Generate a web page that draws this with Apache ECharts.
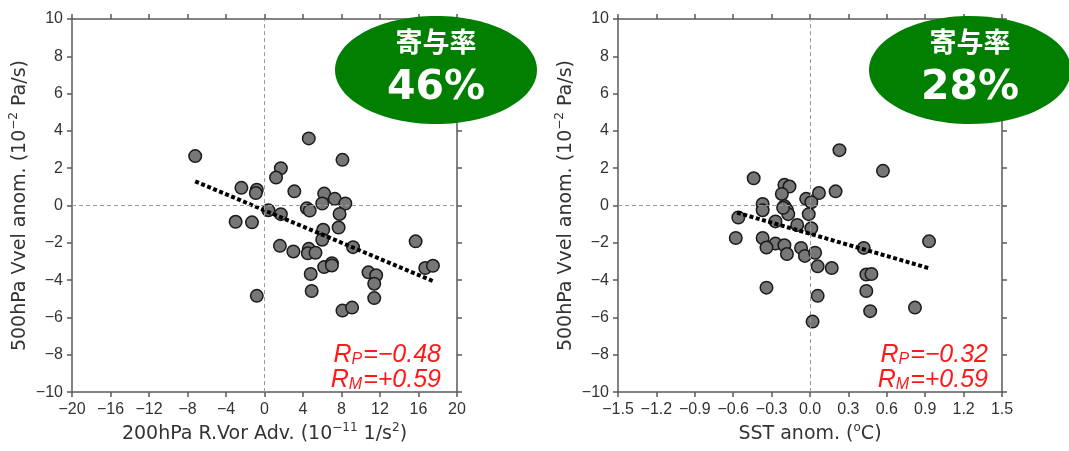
<!DOCTYPE html>
<html>
<head>
<meta charset="utf-8">
<script src="https://cdn.jsdelivr.net/npm/echarts@6/dist/echarts.min.js"></script>
<style>html,body{margin:0;padding:0;background:#fff;}#c{width:1069px;height:451px;}</style>
</head>
<body>
<div id="c"></div>
<script>
// ---- data ----
const leftX = [-7.2, 4.6, 8.1, 1.7, 1.2, -2.4, -0.8, -0.9, 3.1, 6.2, 7.3, 6.0, 8.4, 4.4, 4.7, 0.4, 1.7, 7.8, -3.0, -1.3, 7.7, 6.1, 6.0, 1.6, 3.0, 4.6, 4.5, 5.3, 9.2, 15.7, 6.2, 7.0, 7.0, 10.8, 11.6, 11.4, 16.7, 17.5, 4.8, 4.9, 11.4, -0.8, 8.1, 9.1];
const leftY = [2.65, 3.6, 2.45, 2.0, 1.5, 0.95, 0.85, 0.67, 0.76, 0.64, 0.36, 0.11, 0.11, -0.15, -0.27, -0.25, -0.46, -0.45, -0.87, -0.9, -1.18, -1.3, -1.83, -2.16, -2.46, -2.32, -2.56, -2.53, -2.23, -1.92, -3.3, -3.09, -3.21, -3.58, -3.74, -4.19, -3.35, -3.23, -3.67, -4.58, -4.96, -4.84, -5.63, -5.47];
const rightX = [0.23, 0.57, -0.44, -0.20, -0.16, 0.20, 0.07, -0.22, -0.03, 0.01, -0.37, -0.20, -0.18, -0.37, -0.17, -0.01, -0.56, -0.27, -0.10, 0.01, -0.58, -0.37, -0.27, -0.20, -0.34, -0.18, -0.07, -0.04, 0.04, 0.42, 0.93, 0.06, 0.17, 0.44, 0.48, -0.34, 0.44, 0.06, 0.47, 0.82, 0.02, -0.21];
const rightY = [2.97, 1.86, 1.46, 1.11, 1.02, 0.76, 0.67, 0.62, 0.36, 0.18, 0.08, -0.03, -0.24, -0.25, -0.46, -0.46, -0.64, -0.85, -1.04, -1.22, -1.74, -1.74, -2.04, -2.13, -2.25, -2.6, -2.27, -2.7, -2.53, -2.27, -1.92, -3.26, -3.35, -3.7, -3.67, -4.4, -4.58, -4.84, -5.66, -5.47, -6.22, -0.12];
const trendLeftX = [-7.2, 17.5];
const trendLeftY = [1.3, -4.05];
const trendRightX = [-0.57, 0.925];
const trendRightY = [-0.38, -3.35];
const yTicks = {min: -10, max: 10, interval: 2};
const xTicksLeft = {min: -20, max: 20, interval: 4};
const xTicksRight = {min: -1.5, max: 1.5, interval: 0.3};
const contribLeft = '46%';
const contribRight = '28%';
const statsLeft = {rp: '−0.48', rm: '+0.59'};
const statsRight = {rp: '−0.32', rm: '+0.59'};

const pairs = (xs, ys) => xs.map((x, i) => [x, ys[i]]);
const minus = s => String(s).replace('-', '−');

const AX = '#5a5a5a';
const tickFont = {fontFamily: 'Liberation Sans', fontSize: 16, color: '#333'};
const nameRich = {
  sup: {fontFamily: 'DejaVu Sans', fontSize: 12, color: '#333', verticalAlign: 'top', lineHeight: 12}
};
const nameStyle = {fontFamily: 'DejaVu Sans', fontSize: 19, color: '#333', lineHeight: 24, rich: nameRich};

function xAxisPair(grid, t, fmt, name) {
  const base = {gridIndex: grid, type: 'value', min: t.min, max: t.max, interval: t.interval,
    splitLine: {show: false},
    axisLine: {show: true, onZero: false, lineStyle: {color: AX, width: 1.5}},
    axisTick: {show: true, length: 5, lineStyle: {color: AX, width: 1.5}}};
  return [
    Object.assign({}, base, {position: 'bottom', name: name, nameLocation: 'middle', nameGap: 29,
      nameTextStyle: nameStyle,
      axisLabel: Object.assign({margin: 9, formatter: fmt}, tickFont)}),
    Object.assign({}, base, {position: 'top', axisLabel: {show: false}})
  ];
}
function yAxisPair(grid) {
  const base = {gridIndex: grid, type: 'value', min: yTicks.min, max: yTicks.max, interval: yTicks.interval,
    splitLine: {show: false},
    axisLine: {show: true, onZero: false, lineStyle: {color: AX, width: 1.5}},
    axisTick: {show: true, length: 5, lineStyle: {color: AX, width: 1.5}}};
  return [
    Object.assign({}, base, {position: 'left', name: '500hPa Vvel anom. (10{sup|−2} Pa/s)',
      nameLocation: 'middle', nameGap: 38, nameRotate: 90, nameTextStyle: nameStyle,
      axisLabel: Object.assign({margin: 9, formatter: v => minus(v)}, tickFont)}),
    Object.assign({}, base, {position: 'right', axisLabel: {show: false}})
  ];
}

const fmtLeft = v => minus(v);
const fmtRight = v => minus((Math.round(v * 10) / 10).toFixed(1));

const xAxes = [].concat(
  xAxisPair(0, xTicksLeft, fmtLeft, '200hPa R.Vor Adv. (10{sup|−11} 1/s{sup|2})'),
  xAxisPair(1, xTicksRight, fmtRight, 'SST anom. ({sup|o}C)')
);
const yAxes = [].concat(yAxisPair(0), yAxisPair(1));

function zeroLines(xi, yi) {
  return {type: 'line', xAxisIndex: xi, yAxisIndex: yi, data: [], z: 1, silent: true,
    markLine: {silent: true, symbol: 'none', label: {show: false},
      lineStyle: {color: '#9a9a9a', type: [4, 3], width: 1},
      data: [{xAxis: 0}, {yAxis: 0}]}};
}
function scatter(xi, yi, xs, ys) {
  return {type: 'scatter', xAxisIndex: xi, yAxisIndex: yi, data: pairs(xs, ys), z: 2,
    symbolSize: 12.5, itemStyle: {color: '#777777', borderColor: '#1a1a1a', borderWidth: 1.5, opacity: 1}};
}
function trend(xi, yi, xs, ys) {
  return {type: 'line', xAxisIndex: xi, yAxisIndex: yi, data: pairs(xs, ys), z: 3, symbol: 'none',
    lineStyle: {color: '#000', width: 4, type: [4, 2.5]}};
}

function badge(cx, pct) {
  return [
    {type: 'ellipse', z: 100, shape: {cx: cx, cy: 70, rx: 101, ry: 54}, style: {fill: '#007f00'}},
    {type: 'text', z: 101, x: cx, y: 42, style: {text: '寄与率', fill: '#fff', align: 'center', verticalAlign: 'middle',
      font: 'bold 27px "Noto Sans CJK JP"'}},
    {type: 'text', z: 101, x: cx, y: 88, style: {text: pct, fill: '#fff', align: 'center', verticalAlign: 'middle',
      font: 'bold 41px "DejaVu Sans"'}}
  ];
}
const statRich = {
  m: {fontFamily: 'Liberation Sans', fontStyle: 'italic', fontSize: 25, fill: '#ff1a1a', lineHeight: 26},
  s: {fontFamily: 'Liberation Sans', fontStyle: 'italic', fontSize: 16, fill: '#ff1a1a', lineHeight: 16, verticalAlign: 'bottom', padding: [0, 1, 0, 0]}
};
function stats(rx, st) {
  return [
    {type: 'text', z: 101, x: rx, y: 355, style: {text: '{m|R}{s|P}{m|=' + st.rp + '}', rich: statRich,
      align: 'right', verticalAlign: 'middle', fill: '#ff1a1a'}},
    {type: 'text', z: 101, x: rx, y: 380, style: {text: '{m|R}{s|M}{m|=' + st.rm + '}', rich: statRich,
      align: 'right', verticalAlign: 'middle', fill: '#ff1a1a'}}
  ];
}

const chart = echarts.init(document.getElementById('c'), null, {renderer: 'canvas'});
chart.setOption({
  animation: false,
  backgroundColor: '#fff',
  grid: [
    {left: 72, top: 19, width: 385, height: 381},
    {left: 618, top: 19, width: 384, height: 381}
  ],
  xAxis: xAxes,
  yAxis: yAxes,
  series: [
    zeroLines(0, 0), scatter(0, 0, leftX, leftY), trend(0, 0, trendLeftX, trendLeftY),
    zeroLines(2, 2), scatter(2, 2, rightX, rightY), trend(2, 2, trendRightX, trendRightY)
  ],
  graphic: [].concat(badge(436, contribLeft), badge(970, contribRight), stats(441, statsLeft), stats(988, statsRight))
});
</script>
</body>
</html>
